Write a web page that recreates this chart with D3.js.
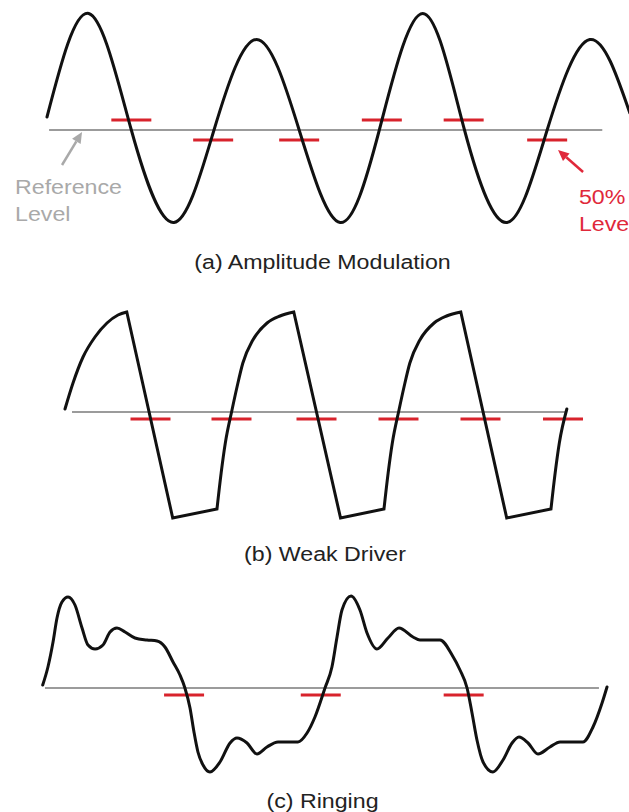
<!DOCTYPE html>
<html>
<head>
<meta charset="utf-8">
<script src="https://cdn.jsdelivr.net/npm/d3@7"></script>
<style>
  html, body { margin: 0; padding: 0; background: #ffffff; }
  svg { display: block; }
</style>
</head>
<body>
<script>
// ---- Panel (a): amplitude-modulated clock, time in ns (period 20 ns), level in volts
const ampTime  = [0, 5.0, 10.1, 15.2, 20.0, 25.1, 30.2, 35.1, 39.8, 45.0, 50.0, 55.1, 59.9, 65.0, 69.8];
const ampLevel = [0.13, 1.165, 0, -0.925, 0, 0.905, 0, -0.925, 0, 1.165, 0, -0.925, 0, 0.905, 0.17];
const ampRefSpan = [0.25, 66.5];
const ampMarkTime  = [10.1, 19.9, 30.2, 40.1, 49.9, 59.9];
const ampMarkLevel = [0.10, -0.10, -0.10, 0.10, 0.10, -0.10];

// ---- Panel (b): weak driver (slow RC-like rise, straight fall, sagging low)
const weakTime  = [0, 0.96, 2.16, 3.59, 5.03, 6.35, 7.4,
                   12.9, 18.2, 18.7, 19.2, 20.0, 20.6, 21.3, 22.5, 24.2, 25.75, 27.4,
                   33.0, 38.2, 38.7, 39.2, 40.0, 40.6, 41.3, 42.5, 44.2, 45.7, 47.4,
                   52.9, 58.2, 58.7, 59.2, 60.1];
const weakLevel = [0.03, 0.29, 0.55, 0.75, 0.89, 0.97, 1.0,
                   -1.06, -0.97, -0.61, -0.31, 0.02, 0.25, 0.49, 0.72, 0.89, 0.96, 1.0,
                   -1.06, -0.97, -0.61, -0.31, 0.02, 0.25, 0.49, 0.72, 0.89, 0.96, 1.0,
                   -1.06, -0.97, -0.61, -0.31, 0.03];
// indices of the sharp corners of the waveform
const weakCorners = [6, 7, 8, 17, 18, 19, 28, 29, 30];
const weakRefSpan = [0.84, 60.1];
const weakMarkTime  = [10.24, 19.94, 30.12, 39.94, 49.76, 59.64];
const weakMarkLevel = [-0.07, -0.07, -0.07, -0.07, -0.07, -0.07];

// ---- Panel (c): ringing square wave
const ringTime = [0.05, 0.42, 0.78, 1.06, 1.41, 1.84, 2.33, 2.83, 3.25, 3.75, 4.31, 4.81, 5.30, 5.87,
                  6.57, 7.42, 8.13, 8.69, 9.26, 9.75, 10.1, 10.46, 10.74, 11.02, 11.38, 11.87,
                  12.58, 13.29, 13.78, 14.49, 15.19, 15.90, 16.68, 18.09, 18.73, 19.29, 20.0,
                  20.49, 20.85, 21.2, 21.84, 22.47, 22.97, 23.67, 24.45, 25.23, 26.22, 26.71,
                  28.13, 28.98, 29.54, 30.04, 30.39, 30.74, 31.17, 31.87, 32.58, 33.22, 33.71,
                  34.35, 35.05, 35.9, 36.61, 38.23, 38.94, 39.58, 39.93];
const ringLevel = [0.03, 0.21, 0.46, 0.70, 0.86, 0.91, 0.83, 0.60, 0.43, 0.39, 0.43, 0.56, 0.60, 0.56,
                   0.50, 0.48, 0.47, 0.41, 0.26, 0.13, 0.0, -0.20, -0.44, -0.64, -0.77, -0.84,
                   -0.74, -0.55, -0.50, -0.55, -0.66, -0.59, -0.54, -0.54, -0.45, -0.29, 0.0,
                   0.21, 0.51, 0.78, 0.92, 0.78, 0.55, 0.39, 0.50, 0.60, 0.51, 0.48,
                   0.48, 0.33, 0.18, 0.0, -0.25, -0.52, -0.74, -0.84, -0.72, -0.55, -0.49,
                   -0.55, -0.66, -0.59, -0.54, -0.54, -0.39, -0.15, 0.01];
const ringRefSpan = [0.21, 39.36];
const ringMarkTime  = [10.04, 19.7, 29.8];
const ringMarkLevel = [-0.07, -0.07, -0.07];

const panelTitles = ["(a) Amplitude Modulation", "(b) Weak Driver", "(c) Ringing"];

// annotation labels of panel (a), positioned in that panel's time/level units
const refLabelLines = ["Reference", "Level"];
const refLabelAt = [[-3.83, -0.64], [-3.83, -0.91]];
const refArrow = [[1.8, -0.35], [4.2, -0.02]];       // tail, tip
const halfLabelLines = ["50%", "Level"];
const halfLabelAt = [[63.7, -0.74], [63.7, -1.01]];
const halfArrow = [[64.2, -0.42], [61.2, -0.20]];    // tail, tip

// ---- drawing
const W = 629, H = 812;
const FONT = "'Liberation Sans', Arial, Helvetica, sans-serif";
const STRETCH = 1.16;           // the lettering is drawn slightly widened
const WAVE = "#111111", REF = "#9b9b9b", RED = "#d8232c";
const MARK_HALF = 20;           // half length of a 50% tick, px

const svg = d3.select("body").append("svg")
  .attr("width", W).attr("height", H)
  .attr("viewBox", `0 0 ${W} ${H}`);
svg.append("rect").attr("width", W).attr("height", H).attr("fill", "#fff");

function label(g, text, px, py, color, anchor) {
  g.append("text")
    .attr("transform", `translate(${px},${py}) scale(${STRETCH},1)`)
    .attr("text-anchor", anchor || "start")
    .attr("font-family", FONT)
    .attr("font-size", 20)
    .attr("fill", color)
    .text(text);
}

function arrow(g, tail, tip, color) {
  const dx = tip[0] - tail[0], dy = tip[1] - tail[1];
  const len = Math.hypot(dx, dy), ux = dx / len, uy = dy / len;
  const headL = 11, headW = 5;
  const bx = tip[0] - ux * headL, by = tip[1] - uy * headL;
  g.append("line")
    .attr("x1", tail[0]).attr("y1", tail[1]).attr("x2", bx).attr("y2", by)
    .attr("stroke", color).attr("stroke-width", 2.5);
  g.append("path")
    .attr("d", `M${tip[0]},${tip[1]} L${bx - uy * headW},${by + ux * headW} L${bx + uy * headW},${by - ux * headW} Z`)
    .attr("fill", color);
}

function drawPanel(opts) {
  const x = d3.scaleLinear().domain([0, 20]).range(opts.xRange);   // one clock period
  const y = d3.scaleLinear().domain([-1, 1]).range(opts.yRange);
  const g = svg.append("g");

  // reference level
  g.append("line")
    .attr("x1", x(opts.ref[0])).attr("x2", x(opts.ref[1]))
    .attr("y1", y(0)).attr("y2", y(0))
    .attr("stroke", REF).attr("stroke-width", 2);

  // 50% level ticks at each crossing
  g.selectAll("line.mark")
    .data(opts.markTime.map((t, i) => [t, opts.markLevel[i]]))
    .join("line").attr("class", "mark")
    .attr("x1", d => x(d[0]) - MARK_HALF).attr("x2", d => x(d[0]) + MARK_HALF)
    .attr("y1", d => y(d[1])).attr("y2", d => y(d[1]))
    .attr("stroke", RED).attr("stroke-width", 3);

  // waveform
  const pts = opts.time.map((t, i) => [t, opts.level[i]]);
  const line = d3.line().x(d => x(d[0])).y(d => y(d[1])).curve(opts.curve);
  let d;
  if (opts.corners) {
    const cuts = [0, ...opts.corners, pts.length - 1];
    d = "";
    for (let k = 0; k < cuts.length - 1; k++) {
      const seg = line(pts.slice(cuts[k], cuts[k + 1] + 1));
      d += k === 0 ? seg : seg.replace(/^M/, "L");
    }
  } else {
    d = line(pts);
  }
  g.append("path")
    .attr("d", d)
    .attr("fill", "none")
    .attr("stroke", WAVE)
    .attr("stroke-width", 3)
    .attr("stroke-linejoin", "miter")
    .attr("stroke-linecap", "round");

  label(g, opts.title, opts.titleX, opts.titleY, "#222", "middle");
  return { x, y, g };
}

const pa = drawPanel({
  time: ampTime, level: ampLevel, ref: ampRefSpan,
  markTime: ampMarkTime, markLevel: ampMarkLevel,
  xRange: [47, 214], yRange: [230, 30], curve: d3.curveNatural,
  title: panelTitles[0], titleX: 322.5, titleY: 269
});

drawPanel({
  time: weakTime, level: weakLevel, ref: weakRefSpan, corners: weakCorners,
  markTime: weakMarkTime, markLevel: weakMarkLevel,
  xRange: [65, 232], yRange: [512, 312], curve: d3.curveMonotoneX,
  title: panelTitles[1], titleX: 325, titleY: 561
});

drawPanel({
  time: ringTime, level: ringLevel, ref: ringRefSpan,
  markTime: ringMarkTime, markLevel: ringMarkLevel,
  xRange: [42, 325], yRange: [788, 588], curve: d3.curveMonotoneX,
  title: panelTitles[2], titleX: 322.5, titleY: 808
});

// annotations of panel (a)
const P = p => [pa.x(p[0]), pa.y(p[1])];
arrow(pa.g, P(refArrow[0]), P(refArrow[1]), "#a9a9a9");
refLabelLines.forEach((s, i) => label(pa.g, s, ...P(refLabelAt[i]), "#a9a9a9"));
arrow(pa.g, P(halfArrow[0]), P(halfArrow[1]), "#e0283a");
halfLabelLines.forEach((s, i) => label(pa.g, s, ...P(halfLabelAt[i]), "#e0283a"));
</script>
</body>
</html>
